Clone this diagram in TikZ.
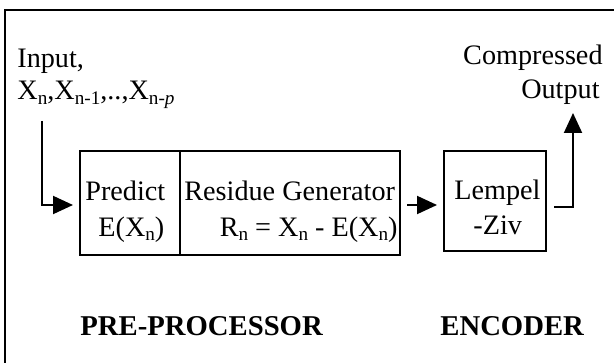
\documentclass[tikz,border=0pt]{standalone}
\usepackage{fontspec}
\setmainfont{Liberation Serif}
\usetikzlibrary{arrows.meta}
\newcommand\sbs[1]{\raisebox{-0.35ex}{\fontsize{9.6}{10}\selectfont #1}}
\tikzset{
  txt/.style={inner sep=0pt, font=\fontsize{14.1}{17}\selectfont},
  boldtxt/.style={txt, font=\fontsize{14.35}{17}\selectfont\bfseries},
  boxnode/.style={draw, line width=1pt, minimum height=#1, inner sep=0pt, anchor=north west},
  arr/.style={line width=1pt, -{Triangle[length=10pt,width=9pt]}},
  conn/.style={line width=1pt}
}
\begin{document}
\begin{tikzpicture}[x=0.5pt,y=-0.5pt]
\useasboundingbox (0,0) rectangle (614,363);
\clip (0,0) rectangle (614,363);
\draw[conn] (5,10) rectangle (640,390);
% boxes
\node[boxnode=52pt, minimum width=50pt] (predict) at (79,150) {};
\node[boxnode=52pt, minimum width=110pt] (residue) at (179,150) {};
\node[boxnode=50pt, minimum width=51pt] (lz) at (443,150) {};
% texts
\node[txt, anchor=base west] (in1) at (17,68) {Input,};
\node[txt, anchor=base west] (in2) at (17,100) {X\sbs{n},X\sbs{n-1},..,X\sbs{n-\textit{p}}};
\node[txt, anchor=base west] (p1) at (85,200) {Predict};
\node[txt, anchor=base west] (p2) at (98,236) {E(X\sbs{n})};
\node[txt, anchor=base west] (r1) at (184,200) {Residue Generator};
\node[txt, anchor=base east] (r2) at (398,236) {R\sbs{n} = X\sbs{n} - E(X\sbs{n})};
\node[txt, anchor=base west] (l1) at (454,199) {Lempel};
\node[txt, anchor=base west] (l2) at (473,234) {-Ziv};
\node[txt, anchor=base east] (o1) at (603,65) {Compressed};
\node[txt, anchor=base east] (o2) at (600,99) {Output};
\node[boldtxt, anchor=base west] (pre) at (80,335) {PRE-PROCESSOR};
\node[boldtxt, anchor=base west] (enc) at (440,335) {ENCODER};
% connectors
\coordinate (instart) at (42,121);
\coordinate (outtip) at (573,113);
\draw[arr, shorten >=3pt] (instart) |- ([yshift=-1pt]predict.west);
\draw[arr, shorten <=3pt, shorten >=3pt] ([yshift=-1pt]residue.east) -- ([yshift=-2pt]lz.west);
\draw[arr] ([xshift=3.5pt,yshift=-3pt]lz.east) -| (outtip);
\end{tikzpicture}
\end{document}
